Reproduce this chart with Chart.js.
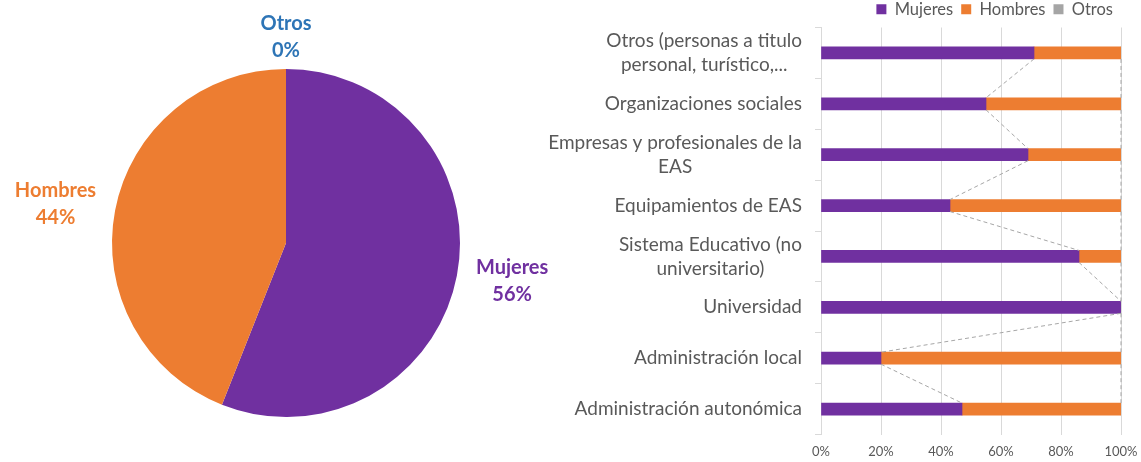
<!DOCTYPE html>
<html>
<head>
<meta charset="utf-8">
<script src="https://cdn.jsdelivr.net/npm/chart.js@4/dist/chart.umd.min.js"></script>
<style>
  body { margin: 0; background: #fff; width: 1141px; height: 462px; overflow: hidden; position: relative; }
  #pieChart { position: absolute; left: 0; top: 0; }
  #barChart { position: absolute; left: 530px; top: 0; }
</style>
</head>
<body>
<canvas id="pieChart" width="570" height="462"></canvas>
<canvas id="barChart" width="611" height="462"></canvas>
<script>
// pie: total by sex
const pieLabels = ['Mujeres', 'Hombres', 'Otros'];
const pieValues = [56, 44, 0];

// bars: share by type of entity (top to bottom)
const categories = [
  ['Otros (personas a titulo', 'personal, turístico,...'],
  ['Organizaciones sociales'],
  ['Empresas y profesionales de la', 'EAS'],
  ['Equipamientos de EAS'],
  ['Sistema Educativo (no', 'universitario)'],
  ['Universidad'],
  ['Administración local'],
  ['Administración autonómica']
];
const mujeres = [71, 55, 69, 43, 86, 100, 20, 47];
const hombres = [29, 45, 31, 57, 14, 0, 80, 53];
const otros = [0, 0, 0, 0, 0, 0, 0, 0];
const xTicks = [0, 20, 40, 60, 80, 100];

const PURPLE = '#7030A0';
const ORANGE = '#ED7D31';
const GREY = '#A5A5A5';
const TEXT = '#595959';
const labelColors = [PURPLE, ORANGE, '#2E75B6'];

Chart.defaults.font.family = 'Lato, "Open Sans", sans-serif';
Chart.defaults.animation = false;

// Labels outside the pie slices
const pieLabelPlugin = {
  id: 'pieLabels',
  afterDraw(chart) {
    const ctx = chart.ctx;
    const meta = chart.getDatasetMeta(0);
    const fontSize = 20, lineH = 27, gapX = 20, gapY = 8;
    ctx.save();
    ctx.font = 'bold ' + fontSize + 'px Lato, sans-serif';
    ctx.textAlign = 'center';
    ctx.textBaseline = 'middle';
    meta.data.forEach((arc, i) => {
      const p = arc.getProps(['x', 'y', 'startAngle', 'endAngle', 'outerRadius'], true);
      const mid = (p.startAngle + p.endAngle) / 2;
      const dx = Math.cos(mid), dy = Math.sin(mid);
      const lines = [pieLabels[i], pieValues[i] + '%'];
      const w = Math.max(...lines.map(l => ctx.measureText(l).width));
      const h = lineH + fontSize;
      const ax = p.x + dx * (p.outerRadius + gapX);
      const ay = p.y + dy * (p.outerRadius + gapY);
      const cx = ax + dx * w / 2;
      const cy = ay + dy * h / 2;
      ctx.fillStyle = labelColors[i];
      lines.forEach((l, j) => {
        ctx.fillText(l, cx, cy + (j - (lines.length - 1) / 2) * lineH);
      });
    });
    ctx.restore();
  }
};

new Chart(document.getElementById('pieChart'), {
  type: 'pie',
  data: {
    labels: pieLabels,
    datasets: [{
      data: pieValues,
      backgroundColor: [PURPLE, ORANGE, GREY],
      borderWidth: 0
    }]
  },
  options: {
    responsive: false,
    layout: { padding: { left: 112, right: 110, top: 69, bottom: 45 } },
    plugins: { legend: { display: false }, tooltip: { enabled: false } }
  },
  plugins: [pieLabelPlugin]
});

// Category labels, lines centred on each other, block right-aligned
const yLabelPlugin = {
  id: 'yLabels',
  afterDraw(chart) {
    const ctx = chart.ctx;
    const scale = chart.scales.y;
    const right = chart.chartArea.left - 19;
    const lineH = 24;
    ctx.save();
    ctx.font = '19px Lato, sans-serif';
    ctx.fillStyle = TEXT;
    ctx.textAlign = 'center';
    ctx.textBaseline = 'middle';
    categories.forEach((lines, i) => {
      const y = scale.getPixelForTick(i);
      const w = Math.max(...lines.map(l => ctx.measureText(l).width));
      lines.forEach((l, j) => {
        ctx.fillText(l, right - w / 2, y + (j - (lines.length - 1) / 2) * lineH);
      });
    });
    ctx.restore();
  }
};

// Excel style series lines between stacked bars
const seriesLinePlugin = {
  id: 'seriesLines',
  afterDatasetsDraw(chart) {
    const ctx = chart.ctx;
    ctx.save();
    ctx.strokeStyle = '#A6A6A6';
    ctx.lineWidth = 1;
    ctx.setLineDash([4, 3]);
    [0, 1].forEach(d => {
      const bars = chart.getDatasetMeta(d).data;
      for (let i = 0; i < bars.length - 1; i++) {
        const a = bars[i].getProps(['x', 'y', 'height'], true);
        const b = bars[i + 1].getProps(['x', 'y', 'height'], true);
        ctx.beginPath();
        ctx.moveTo(a.x, a.y + a.height / 2);
        ctx.lineTo(b.x, b.y - b.height / 2);
        ctx.stroke();
      }
    });
    ctx.restore();
  }
};

new Chart(document.getElementById('barChart'), {
  type: 'bar',
  data: {
    labels: categories,
    datasets: [
      { label: 'Mujeres', data: mujeres, backgroundColor: PURPLE },
      { label: 'Hombres', data: hombres, backgroundColor: ORANGE },
      { label: 'Otros', data: otros, backgroundColor: GREY }
    ]
  },
  options: {
    responsive: false,
    indexAxis: 'y',
    datasets: { bar: { barThickness: 12, borderWidth: 0 } },
    layout: { padding: { left: 0, right: 20, top: -7, bottom: 0 } },
    scales: {
      x: {
        stacked: true,
        min: 0,
        max: 100,
        afterBuildTicks: s => { s.ticks = xTicks.map(v => ({ value: v })); },
        afterFit: s => { s.height = 27.5; s.paddingLeft = 0; s.paddingRight = 0; },
        grid: { color: '#D9D9D9', drawTicks: false },
        border: { display: false },
        ticks: { padding: 10, color: TEXT, font: { size: 13 }, callback: v => v + '%' }
      },
      y: {
        stacked: true,
        afterFit: s => { s.width = 291; },
        grid: { color: '#D9D9D9', drawOnChartArea: false, tickLength: 6 },
        border: { color: '#D9D9D9' },
        ticks: { display: false }
      }
    },
    plugins: {
      tooltip: { enabled: false },
      legend: {
        position: 'top',
        align: 'end',
        labels: { boxWidth: 10, boxHeight: 10, padding: 8, color: TEXT, font: { size: 16.5 } }
      }
    }
  },
  plugins: [yLabelPlugin, seriesLinePlugin]
});
</script>
</body>
</html>
